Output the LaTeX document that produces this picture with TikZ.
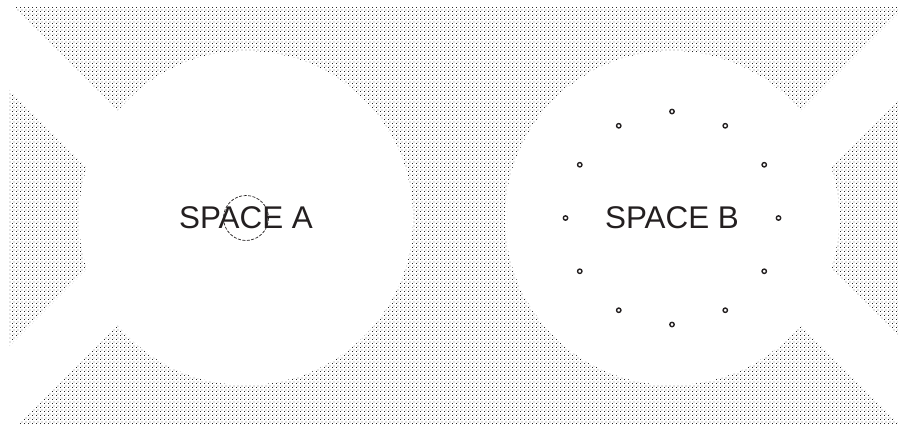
\documentclass[tikz,border=0pt]{standalone}
\usepackage{fontspec}
\setmainfont{Liberation Sans}
\usetikzlibrary{patterns}
\definecolor{inkdark}{RGB}{35,31,32}
\definecolor{dotgrey}{RGB}{40,40,40}

% staggered dot screen for the ground
\pgfdeclarepatternformonly{spacedots}{\pgfqpoint{0bp}{0bp}}{\pgfqpoint{4bp}{4bp}}{\pgfqpoint{4bp}{4bp}}{%
  \pgfpathrectangle{\pgfqpoint{0bp}{0bp}}{\pgfqpoint{1bp}{1bp}}%
  \pgfpathrectangle{\pgfqpoint{2bp}{2bp}}{\pgfqpoint{1bp}{1bp}}%
  \pgfusepath{fill}}

\begin{document}
\begin{tikzpicture}[x=1bp, y=-1bp, font=\fontsize{31.5}{31.5}\selectfont]
\useasboundingbox (0,0) rectangle (899,427);

% ---- Dotted ground ----
\fill[pattern=spacedots, pattern color=dotgrey] (9,7) rectangle (898,424);

% ---- White cut-outs: the two spaces and the corner bands ----
\begin{scope}[white]
  \fill (246,218) circle[radius=167];
  \fill (672,218) circle[radius=167];
  \draw[line width=61.5] (181,218) -- (-119,-82);
  \draw[line width=61.5] (181,218) -- (-119,518);
  \draw[line width=61.5] (737,218) -- (1037,-82);
  \draw[line width=61.5] (737,218) -- (1037,518);
\end{scope}

% ---- Labels ----
\node[inkdark] (spaceA) at (246,218){SPACE A};
\node[inkdark] (spaceB) at (672,218){SPACE B};

% ---- Dashed focus ring in space A ----
\draw[inkdark, line width=0.7, dash pattern=on 3bp off 1.5bp]
  (spaceA.center) circle[radius=22.5];

% ---- Ring of points round space B ----
\foreach \ang in {0,30,...,330} {
  \draw[inkdark, line width=1.4] (spaceB.center) ++(\ang:106.5) circle[radius=2.2];
}

\end{tikzpicture}
\end{document}
